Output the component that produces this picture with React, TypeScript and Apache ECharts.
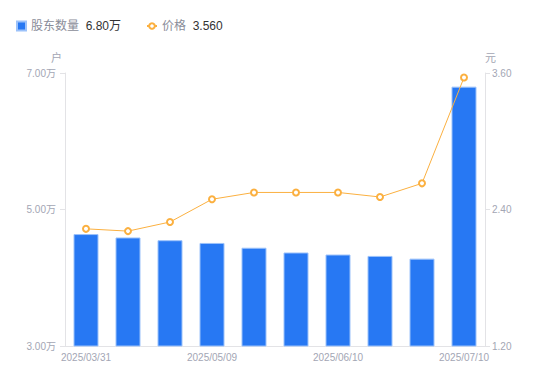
import React, { useEffect, useRef } from "react";
import * as echarts from "echarts";

const categories = [
  "2025/03/31", "2025/04/10", "2025/04/20", "2025/05/09", "2025/05/20",
  "2025/05/30", "2025/06/10", "2025/06/20", "2025/06/30", "2025/07/10",
];
const holders = [4.64, 4.59, 4.55, 4.51, 4.44, 4.37, 4.34, 4.32, 4.28, 6.8];
const prices = [2.23, 2.21, 2.29, 2.49, 2.55, 2.55, 2.55, 2.51, 2.63, 3.56];
const leftTicks = { min: 3, max: 7, interval: 2 };
const rightTicks = { min: 1.2, max: 3.6, interval: 1.2 };

export default function App() {
  const ref = useRef<HTMLDivElement>(null);
  useEffect(() => {
    document.body.style.margin = "0";
    const chart = echarts.init(ref.current!, null, { renderer: "svg" });
    const labelColor = "#a3a6b4";
    const lastH = holders[holders.length - 1];
    const lastP = prices[prices.length - 1];
    const rich = {
      n: { color: "#8a8d99", fontSize: 12 },
      v: { color: "#333333", fontSize: 12 },
    };
    chart.setOption({
      animation: false,
      textStyle: { fontFamily: "'Liberation Sans', 'Noto Sans CJK SC', sans-serif" },
      legend: [
        {
          left: 11,
          top: 15,
          itemWidth: 9,
          itemHeight: 9,
          itemGap: 5,
          data: [{ name: "股东数量", icon: "rect" }],
          formatter: (name: string) => `{n|${name}}  {v|${lastH.toFixed(2)}万}`,
          textStyle: { rich },
        },
        {
          left: 141,
          top: 15,
          itemWidth: 10,
          itemHeight: 7,
          data: [{ name: "价格" }],
          formatter: (name: string) => `{n|${name}}  {v|${lastP.toFixed(3)}}`,
          textStyle: { rich },
        },
      ],
      grid: { left: 65, right: 65, top: 73, bottom: 35 },
      xAxis: {
        type: "category",
        data: categories,
        boundaryGap: true,
        axisLine: { lineStyle: { color: "#e3e3e6" } },
        axisTick: { show: false },
        axisLabel: { color: labelColor, fontSize: 10, interval: 2, margin: 6 },
      },
      yAxis: [
        {
          type: "value",
          name: "户",
          nameGap: 10,
          nameTextStyle: { color: labelColor, fontSize: 11, align: "right", padding: [0, 3, 0, 0] },
          min: leftTicks.min,
          max: leftTicks.max,
          interval: leftTicks.interval,
          axisLine: { show: true, lineStyle: { color: "#e3e3e6" } },
          axisTick: { show: true, length: 5, lineStyle: { color: "#e3e3e6" } },
          splitLine: { show: false },
          axisLabel: {
            color: labelColor,
            fontSize: 10,
            margin: 9,
            formatter: (v: number) => v.toFixed(2) + "万",
          },
        },
        {
          type: "value",
          name: "元",
          nameGap: 10,
          nameTextStyle: { color: labelColor, fontSize: 11, align: "left" },
          min: rightTicks.min,
          max: rightTicks.max,
          interval: rightTicks.interval,
          axisLine: { show: true, lineStyle: { color: "#e3e3e6" } },
          axisTick: { show: true, length: 5, lineStyle: { color: "#e3e3e6" } },
          splitLine: { show: false },
          axisLabel: {
            color: labelColor,
            fontSize: 10,
            margin: 7,
            formatter: (v: number) => v.toFixed(2),
          },
        },
      ],
      series: [
        {
          name: "股东数量",
          type: "bar",
          data: holders,
          yAxisIndex: 0,
          barWidth: 25,
          itemStyle: { color: "#2778f3", borderColor: "#9cc2fa", borderWidth: 1 },
        },
        {
          name: "价格",
          type: "line",
          data: prices,
          yAxisIndex: 1,
          symbol: "emptyCircle",
          symbolSize: 6,
          lineStyle: { color: "#fbb040", width: 1 },
          itemStyle: { color: "#fbb040", borderWidth: 2 },
        },
      ],
    });
    return () => chart.dispose();
  }, []);
  return <div ref={ref} style={{ width: 550, height: 381 }} />;
}
